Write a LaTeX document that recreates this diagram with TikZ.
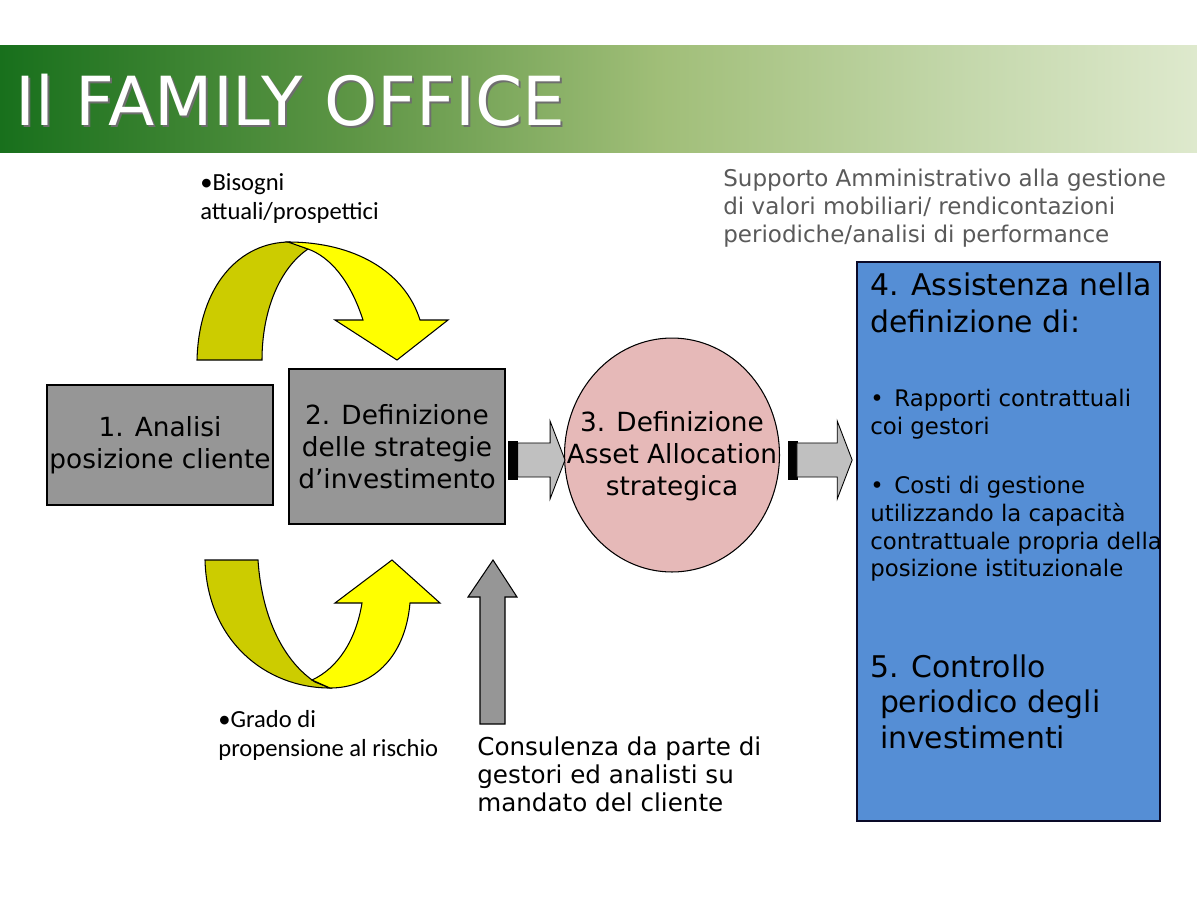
\documentclass[tikz,border=0pt]{standalone}
\usepackage{fontspec}
\setmainfont{DejaVu Sans}
\newfontfamily\calibri{Carlito}
\usepackage{tikz}
\usetikzlibrary{shapes.geometric, positioning, calc}
\definecolor{boxgray}{RGB}{150,150,150}
\definecolor{arrowgray}{RGB}{192,192,192}
\definecolor{circpink}{RGB}{230,185,184}
\definecolor{boxblue}{RGB}{85,142,213}
\definecolor{boxborder}{RGB}{10,10,40}
\definecolor{olivearc}{RGB}{204,204,0}
\definecolor{yellowarc}{RGB}{255,255,0}
\definecolor{notegray}{RGB}{90,90,90}
\definecolor{titleshadow}{RGB}{110,110,110}
\definecolor{band0}{RGB}{24,112,28}
\definecolor{band1}{RGB}{95,150,70}
\definecolor{band2}{RGB}{160,190,120}
\definecolor{band3}{RGB}{195,215,170}
\definecolor{band4}{RGB}{222,233,205}
\pgfdeclarehorizontalshading{titleband}{100bp}{color(0bp)=(band0); color(25bp)=(band0); color(40bp)=(band1); color(52.5bp)=(band2); color(65bp)=(band3); color(75bp)=(band4); color(100bp)=(band4)}

\tikzset{
    stepbox/.style={draw=black, line width=0.8pt, fill=boxgray, inner sep=0pt, align=center,
                    font=\fontsize{15}{18.2}\selectfont},
    note/.style={inner sep=0pt, anchor=north west, align=left},
    barpart/.style={fill=black, draw=black, line width=0.4pt},
    bodypart/.style={fill=arrowgray, draw=black, line width=0.5pt},
    backarc/.style={fill=olivearc, draw=black, line width=0.6pt},
    frontarc/.style={fill=yellowarc, draw=black, line width=0.6pt},
}

\newcommand{\fatarrow}[2]{%
    \draw[barpart] let \p1=(#1) in (\x1,\y1-10.8pt) rectangle (\x1+5.1pt,\y1+10.8pt);
    \draw[bodypart] let \p1=(#1), \p2=(#2) in
        (\x1+5.1pt,\y1-9.7pt) -- (\x2-8.5pt,\y1-9.7pt) -- (\x2-8.5pt,\y1-22.2pt) -- (\x2,\y1)
        -- (\x2-8.5pt,\y1+22.2pt) -- (\x2-8.5pt,\y1+9.7pt) -- (\x1+5.1pt,\y1+9.7pt) -- cycle;
}

\begin{document}
\begin{tikzpicture}[x=0.02cm, y=-0.02cm]
    \useasboundingbox (0,0) rectangle (1197,897);

    \fill[shading=titleband] (0,45) rectangle (1197,152);
    \node[anchor=base west, inner sep=0pt, text=titleshadow, font=\fontsize{38.5}{40}\selectfont] (titleshade) at (17,127) {Il FAMILY OFFICE};
    \node[anchor=base west, inner sep=0pt, text=white, font=\fontsize{38.5}{40}\selectfont] (title) at (15,125) {Il FAMILY OFFICE};

    \node[stepbox, minimum width=4.52cm, minimum height=2.4cm] (analisi) at (160,445) {1. Analisi\\posizione cliente};
    \node[stepbox, minimum width=4.32cm, minimum height=3.1cm] (strategie) at (397,446.5) {2. Definizione\\delle strategie\\d’investimento};
    \node[ellipse, draw=black, line width=0.6pt, fill=circpink, minimum width=4.3cm, minimum height=4.68cm, inner sep=0pt] (allocation) at (672,455) {};
    \node[align=center, inner sep=0pt, font=\fontsize{15}{18.2}\selectfont] (allocationtext) at ($(allocation.center)+(0,1.5)$) {3. Definizione\\Asset Allocation\\strategica};
    \node[draw=boxborder, line width=1pt, fill=boxblue, minimum width=6.06cm, minimum height=11.18cm, inner sep=0pt] (assistenza) at (1008.5,541.5) {};

    \node[note, font=\fontsize{17}{21.4}\selectfont] (assist) at (870,272) {4. Assistenza nella\\definizione di:};
    \node[note, font=\fontsize{13}{15.8}\selectfont] (rapporti) at (870,389) {•\hspace{6pt}Rapporti contrattuali\\coi gestori};
    \node[note, font=\fontsize{13}{15.8}\selectfont] (costi) at (870,476) {•\hspace{6pt}Costi di gestione\\utilizzando la capacità\\contrattuale propria della\\posizione istituzionale};
    \node[note, font=\fontsize{17}{20.4}\selectfont] (controllo) at (870,654) {5. Controllo\\\hspace*{5.5pt}periodico degli\\\hspace*{5.5pt}investimenti};

    \node[note, text=notegray, font=\fontsize{13.1}{15.9}\selectfont] (supporto) at (723,169) {Supporto Amministrativo alla gestione\\di valori mobiliari/ rendicontazioni\\periodiche/analisi di performance};
    \node[note, font=\fontsize{14}{16.2}\selectfont] (consulenza) at (477,736) {Consulenza da parte di\\gestori ed analisti su\\mandato del cliente};
    \node[note, font=\calibri\fontsize{14}{16.5}\selectfont] (bisogni) at (200,173) {•Bisogni\\attuali/prospettici};
    \node[note, font=\calibri\fontsize{14}{16.5}\selectfont] (grado) at (218,710) {•Grado di\\propensione al rischio};

    \coordinate (a1s) at ($(strategie.east)+(3,13.5)$);
    \coordinate (a1t) at ($(allocation.west)+(1,5)$);
    \fatarrow{a1s}{a1t}
    \coordinate (a2s) at ($(allocation.east)+(8,5)$);
    \coordinate (a2t) at ($(assistenza.west)+(-4,-81.5)$);
    \fatarrow{a2s}{a2t}

    \coordinate (uptip) at ($(consulenza.north west)+(16,-176)$);
    \draw[fill=boxgray, draw=black, line width=0.6pt] (uptip) -- ++(24,37) -- ++(-12,0) -- ++(0,127) -- ++(-25,0) -- ++(0,-127) -- ++(-12,0) -- cycle;

    \draw[backarc] (197,360) .. controls (199,285) and (240,242) .. (290,242) -- (308,249)
        .. controls (280,268) and (262,310) .. (262,360) -- cycle;
    \draw[frontarc] (288,242) .. controls (355,242) and (405,272) .. (420,320) -- (448,320) -- (397,360) -- (335,320)
        -- (363,320) .. controls (350,280) and (330,257) .. (308,249) -- cycle;

    \draw[backarc] (205,560) -- (258,560) .. controls (262,620) and (285,662) .. (315,682) -- (330,688)
        .. controls (265,688) and (207,640) .. (205,560) -- cycle;
    \draw[frontarc] (312,680) .. controls (338,668) and (356,640) .. (362,603) -- (335,603) -- (392,560) -- (440,603)
        -- (410,603) .. controls (405,660) and (370,688) .. (330,688) -- cycle;
\end{tikzpicture}
\end{document}
